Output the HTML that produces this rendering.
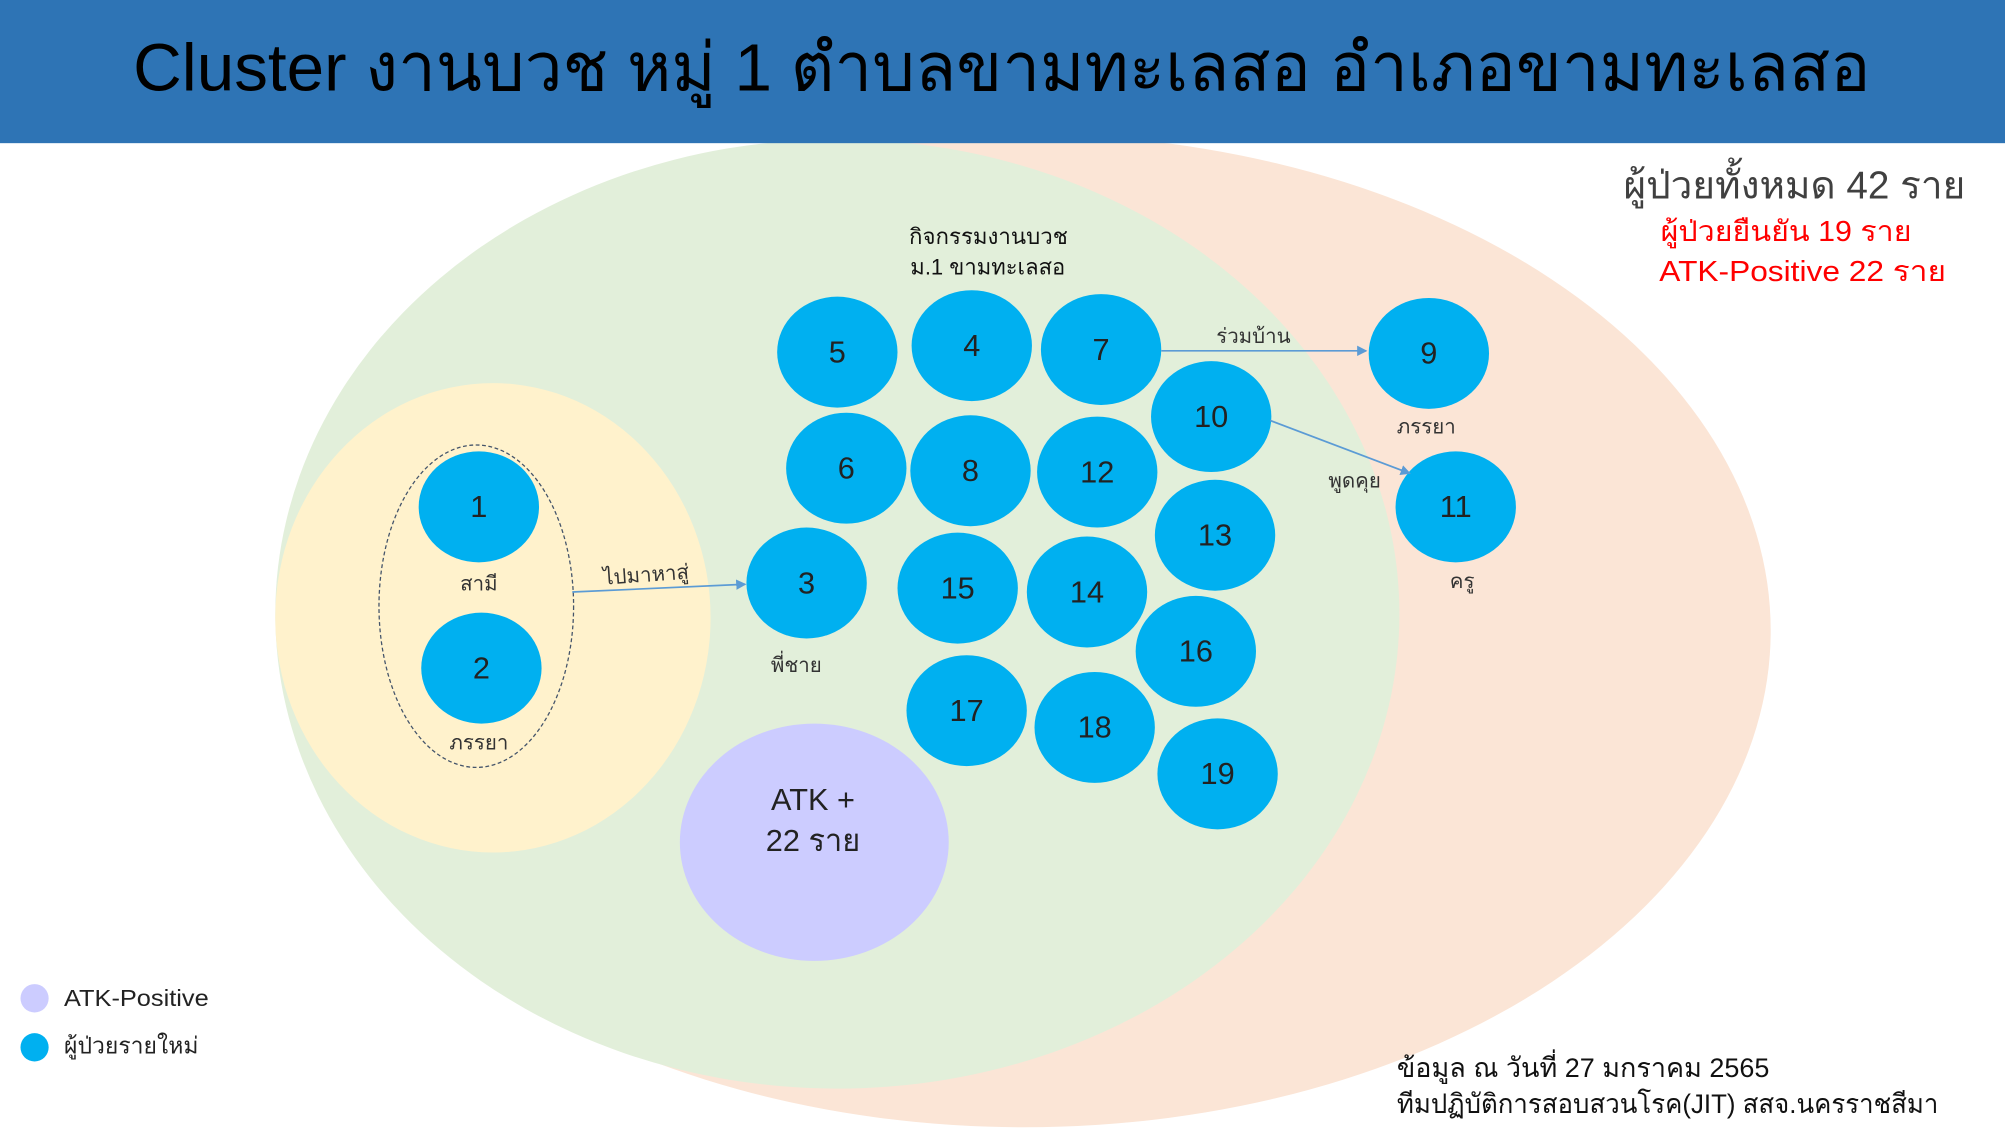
<!DOCTYPE html>
<html><head><meta charset="utf-8">
<style>
html,body{margin:0;padding:0;background:#fff;overflow:hidden}
svg{display:block}
text{font-family:"Liberation Sans","Noto Sans CJK SC","WenQuanYi Zen Hei",sans-serif}
</style></head>
<body>
<svg width="2005" height="1135" viewBox="0 0 1566 880" preserveAspectRatio="none" xmlns="http://www.w3.org/2000/svg">
<defs>
<marker id="ar" markerWidth="8" markerHeight="8" refX="7" refY="4" orient="auto" markerUnits="userSpaceOnUse">
<path d="M0,0 L8,4 L0,8 z" fill="#5b9bd5"/>
</marker>
</defs>
<rect width="1566" height="880" fill="#fff"/>
<g transform="translate(0,-4)">
<ellipse cx="800" cy="493" rx="583" ry="385" fill="#fbe5d6"/>
<ellipse cx="654" cy="480" rx="439" ry="368" fill="#e2efda"/>
<ellipse cx="385" cy="483" rx="170" ry="182" fill="#fff2cc"/>
<ellipse cx="372" cy="474" rx="76" ry="125" fill="none" stroke="#44546a" stroke-width="1" stroke-dasharray="3,2"/>
</g>
<rect x="0" y="0" width="1566" height="111" fill="#2e74b5"/>
<text x="104" y="70" font-size="52" textLength="1357" lengthAdjust="spacingAndGlyphs" fill="#000">Cluster งานบวช หมู่ 1 ตำบลขามทะเลสอ อำเภอขามทะเลสอ</text>

<g transform="translate(0,-4)">
<g fill="#00b0f0">
<ellipse cx="374" cy="397" rx="47" ry="43"/>
<ellipse cx="376" cy="522" rx="47" ry="43"/>
<ellipse cx="630" cy="456" rx="47" ry="43"/>
<ellipse cx="654" cy="277" rx="47" ry="43"/>
<ellipse cx="759" cy="272" rx="47" ry="43"/>
<ellipse cx="860" cy="275" rx="47" ry="43"/>
<ellipse cx="1116" cy="278" rx="47" ry="43"/>
<ellipse cx="946" cy="327" rx="47" ry="43"/>
<ellipse cx="661" cy="367" rx="47" ry="43"/>
<ellipse cx="758" cy="369" rx="47" ry="43"/>
<ellipse cx="857" cy="370" rx="47" ry="43"/>
<ellipse cx="1137" cy="397" rx="47" ry="43"/>
<ellipse cx="949" cy="419" rx="47" ry="43"/>
<ellipse cx="748" cy="460" rx="47" ry="43"/>
<ellipse cx="849" cy="463" rx="47" ry="43"/>
<ellipse cx="934" cy="509" rx="47" ry="43"/>
<ellipse cx="755" cy="555" rx="47" ry="43"/>
<ellipse cx="855" cy="568" rx="47" ry="43"/>
<ellipse cx="951" cy="604" rx="47" ry="43"/>
</g>
<g font-size="24" text-anchor="middle" fill="#222">
<text x="374" y="405">1</text>
<text x="376" y="530">2</text>
<text x="630" y="464">3</text>
<text x="654" y="285">5</text>
<text x="759" y="280">4</text>
<text x="860" y="283">7</text>
<text x="1116" y="286">9</text>
<text x="946" y="335">10</text>
<text x="661" y="375">6</text>
<text x="758" y="377">8</text>
<text x="857" y="378">12</text>
<text x="1137" y="405">11</text>
<text x="949" y="427">13</text>
<text x="748" y="468">15</text>
<text x="849" y="471">14</text>
<text x="934" y="517">16</text>
<text x="755" y="563">17</text>
<text x="855" y="576">18</text>
<text x="951" y="612">19</text>
</g>

<ellipse cx="636" cy="657" rx="105" ry="92" fill="#ccccff"/>
<text x="635" y="632" font-size="24" text-anchor="middle" fill="#222">ATK +</text>
<text x="635" y="664" font-size="24" text-anchor="middle" fill="#222">22  ราย</text>

<g font-size="16" text-anchor="middle" fill="#333">
<text x="374" y="462">สามี</text>
<text x="374" y="585">ภรรยา</text>
<text x="622" y="525">พี่ชาย</text>
<text x="1114" y="340">ภรรยา</text>
<text x="1142" y="460">ครู</text>
<text x="979" y="270">ร่วมบ้าน</text>
<text x="1058" y="382">พูดคุย</text>
<text x="505" y="455" transform="rotate(-4 505 455)">ไปมาหาสู่</text>
</g>
<g stroke="#5b9bd5" stroke-width="1.3" fill="none">
<line x1="447" y1="463" x2="582" y2="457" marker-end="url(#ar)"/>
<line x1="907" y1="276" x2="1067" y2="276" marker-end="url(#ar)"/>
<line x1="992" y1="330" x2="1101" y2="371" marker-end="url(#ar)"/>
</g>

<text x="710" y="193" font-size="17" textLength="124" lengthAdjust="spacingAndGlyphs" fill="#111">กิจกรรมงานบวช</text>
<text x="711" y="217" font-size="17" textLength="121" lengthAdjust="spacingAndGlyphs" fill="#111">ม.1 ขามทะเลสอ</text>
</g>

<text x="1268" y="154" font-size="30" textLength="267" lengthAdjust="spacingAndGlyphs" fill="#404040">ผู้ป่วยทั้งหมด 42 ราย</text>
<text x="1297" y="187" font-size="22" textLength="196" lengthAdjust="spacingAndGlyphs" fill="#ff0000">ผู้ป่วยยืนยัน 19 ราย</text>
<text x="1296" y="218" font-size="22" textLength="224" lengthAdjust="spacingAndGlyphs" fill="#ff0000">ATK-Positive 22 ราย</text>

<ellipse cx="27" cy="774" rx="11" ry="11" fill="#ccccff"/>
<text x="50" y="780" font-size="18" textLength="113" lengthAdjust="spacingAndGlyphs" fill="#222">ATK-Positive</text>
<ellipse cx="27" cy="812" rx="11" ry="11" fill="#00b0f0"/>
<text x="50" y="817" font-size="18" textLength="105" lengthAdjust="spacingAndGlyphs" fill="#222">ผู้ป่วยรายใหม่</text>

<text x="1091" y="835" font-size="21" textLength="291" lengthAdjust="spacingAndGlyphs" fill="#111">ข้อมูล ณ วันที่ 27 มกราคม 2565</text>
<text x="1091" y="863" font-size="21" textLength="423" lengthAdjust="spacingAndGlyphs" fill="#111">ทีมปฏิบัติการสอบสวนโรค(JIT) สสจ.นครราชสีมา</text>
</svg>
</body></html>
